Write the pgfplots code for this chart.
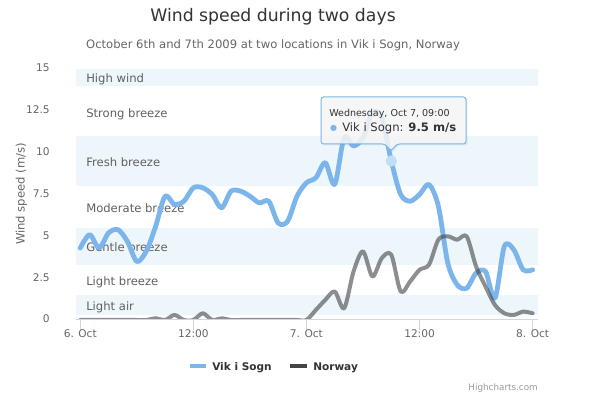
\documentclass[border=0pt]{standalone}
\usepackage{pgfplots}
\pgfplotsset{compat=1.18}
\usepackage{fontspec}
\setmainfont{DejaVu Sans}
\definecolor{hcblue}{HTML}{7CB5EC}
\definecolor{hcdark}{HTML}{434348}
\definecolor{bandc}{HTML}{ECF6FB}
\definecolor{axisc}{HTML}{CCD6EB}
\definecolor{txt}{HTML}{333333}
\definecolor{txtg}{HTML}{666666}
\definecolor{bandtxt}{HTML}{606060}
\definecolor{credit}{HTML}{999999}
\definecolor{tipbg}{HTML}{F7F7F7}
\definecolor{halo}{HTML}{C2DDF6}
\newcommand{\fs}[1]{\fontsize{#1}{#1}\selectfont}

\pgfplotstableread{
h v
0 4.3
1 5.1
2 4.3
3 5.2
4 5.4
5 4.7
6 3.5
7 4.1
8 5.6
9 7.4
10 6.9
11 7.1
12 7.9
13 7.9
14 7.5
15 6.7
16 7.7
17 7.7
18 7.4
19 7.0
20 7.1
21 5.8
22 5.9
23 7.4
24 8.2
25 8.5
26 9.4
27 8.1
28 10.9
29 10.4
30 10.9
31 12.4
32 12.1
33 9.5
34 7.5
35 7.1
36 7.5
37 8.1
38 6.8
39 3.4
40 2.1
41 1.9
42 2.8
43 2.9
44 1.3
45 4.4
46 4.2
47 3.0
48 3.0
}\vik

\pgfplotstableread{
h v
0 0.0
1 0.0
2 0.0
3 0.0
4 0.0
5 0.0
6 0.0
7 0.0
8 0.1
9 0.0
10 0.3
11 0.0
12 0.0
13 0.4
14 0.0
15 0.1
16 0.0
17 0.0
18 0.0
19 0.0
20 0.0
21 0.0
22 0.0
23 0.0
24 0.0
25 0.6
26 1.2
27 1.7
28 0.7
29 2.9
30 4.1
31 2.6
32 3.7
33 3.9
34 1.7
35 2.3
36 3.0
37 3.3
38 4.8
39 5.0
40 4.8
41 5.0
42 3.2
43 2.0
44 0.9
45 0.4
46 0.3
47 0.5
48 0.4
}\norway

\begin{document}
\begin{tikzpicture}[x=0.75pt,y=0.75pt]
\path[fill=white] (0,0) rectangle (592,398);
\begin{axis}[
  at={(57pt,58.5pt)}, anchor=south west,
  width=346.5pt, height=188.25pt, scale only axis,
  xmin=-0.45, xmax=48.57, ymin=0, ymax=15,
  axis line style={draw=none},
  xtick={0,12,24,36,48},
  xticklabels={6. Oct,12:00,7. Oct,12:00,8. Oct},
  ytick={0,2.5,5,7.5,10,12.5,15},
  yticklabels={0,2.5,5,7.5,10,12.5,15},
  xtick pos=lower, ytick pos=left,
  tick align=outside,
  major tick length=7.5pt,
  xtick style={draw=axisc, line width=0.75pt},
  ytick style={draw=none},
  minor tick num=0,
  tick label style={font=\fs{7.95pt}, color=txtg},
  xticklabel style={anchor=base, yshift=-5.6pt},
  yticklabel style={anchor=east, inner sep=0pt, xshift=-12pt, yshift=0.75pt},
  grid=none,
]
% plot bands
\addplot[draw=none, fill=bandc, forget plot] coordinates {(-1,0.3) (50,0.3) (50,1.5) (-1,1.5)} -- cycle;
\addplot[draw=none, fill=bandc, forget plot] coordinates {(-1,3.3) (50,3.3) (50,5.5) (-1,5.5)} -- cycle;
\addplot[draw=none, fill=bandc, forget plot] coordinates {(-1,8) (50,8) (50,11) (-1,11)} -- cycle;
\addplot[draw=none, fill=bandc, forget plot] coordinates {(-1,14) (50,14) (50,15) (-1,15)} -- cycle;
% band labels
\begin{scope}[every node/.style={anchor=base west, inner sep=0pt, font=\fs{8.7pt}, text=bandtxt, xshift=7.5pt}]
\node at (axis cs:-0.45,14.17) {High wind};
\node at (axis cs:-0.45,12.13) {Strong breeze};
\node at (axis cs:-0.45,9.16) {Fresh breeze};
\node at (axis cs:-0.45,6.41) {Moderate breeze};
\node at (axis cs:-0.45,4.08) {Gentle breeze};
\node at (axis cs:-0.45,2.05) {Light breeze};
\node at (axis cs:-0.45,0.58) {Light air};
\end{scope}
% series
\addplot[hcblue, line width=3.6pt, smooth, tension=0.5, line join=round, line cap=round] table[x=h,y=v] {\vik};
\addplot[hcdark, opacity=0.6, line width=3pt, smooth, tension=0.5, line join=round, line cap=round] table[x=h,y=v] {\norway};
% hovered point
\addplot[halo, only marks, mark=*, mark size=4pt, mark options={draw=none, fill=halo}] coordinates {(33,9.5)};
% x axis line
\draw[axisc, line width=0.75pt] (rel axis cs:0,0) -- (rel axis cs:1,0);
\end{axis}

% title, subtitle
\node[anchor=base, inner sep=0pt, font=\fs{12.95pt}, text=txt] at (273,376.5) {Wind speed during two days};
\node[anchor=base, inner sep=0pt, font=\fs{8.7pt}, text=txtg] at (273,349.7) {October 6th and 7th 2009 at two locations in Vik i Sogn, Norway};
% y axis title
\node[anchor=base, rotate=90, inner sep=0pt, font=\fs{8.7pt}, text=txtg] at (24.5,204) {Wind speed (m/s)};

% tooltip
\fill[black, opacity=0.05] (322.5,252.5) -- (386.5,252.5) -- (392.5,245.5) -- (398.5,252.5) -- (467.5,252.5) -- (467.5,299.5) -- (322.5,299.5) -- cycle;
\draw[hcblue, fill=tipbg, fill opacity=0.85, line width=0.75pt, rounded corners=2pt] (321,254) -- (385,254) -- (391,247) -- (397,254) -- (466,254) -- (466,301) -- (321,301) -- cycle;
\node[anchor=base west, inner sep=0pt, font=\fs{7.15pt}, text=txt] at (329,281) {Wednesday, Oct 7, 09:00};
\node[anchor=base west, inner sep=0pt, font=\fs{8.7pt}, text=txt] at (342,266) {Vik i Sogn: \textbf{9.5 m/s}};
\node[anchor=center, inner sep=0pt, font=\fs{6pt}, text=hcblue] at (333.5,270) {●};

% legend
\draw[hcblue, line width=3pt] (190,32) -- (206,32);
\node[anchor=base west, inner sep=0pt, font=\fs{7.9pt}\bfseries, text=txt] at (212,27.3) {Vik i Sogn};
\draw[hcdark, line width=3pt] (290,32) -- (307,32);
\node[anchor=base west, inner sep=0pt, font=\fs{7.9pt}\bfseries, text=txt] at (313,27.3) {Norway};

% credits
\node[anchor=base east, inner sep=0pt, font=\fs{6.6pt}, text=credit] at (538,7) {Highcharts.com};
\end{tikzpicture}
\end{document}
